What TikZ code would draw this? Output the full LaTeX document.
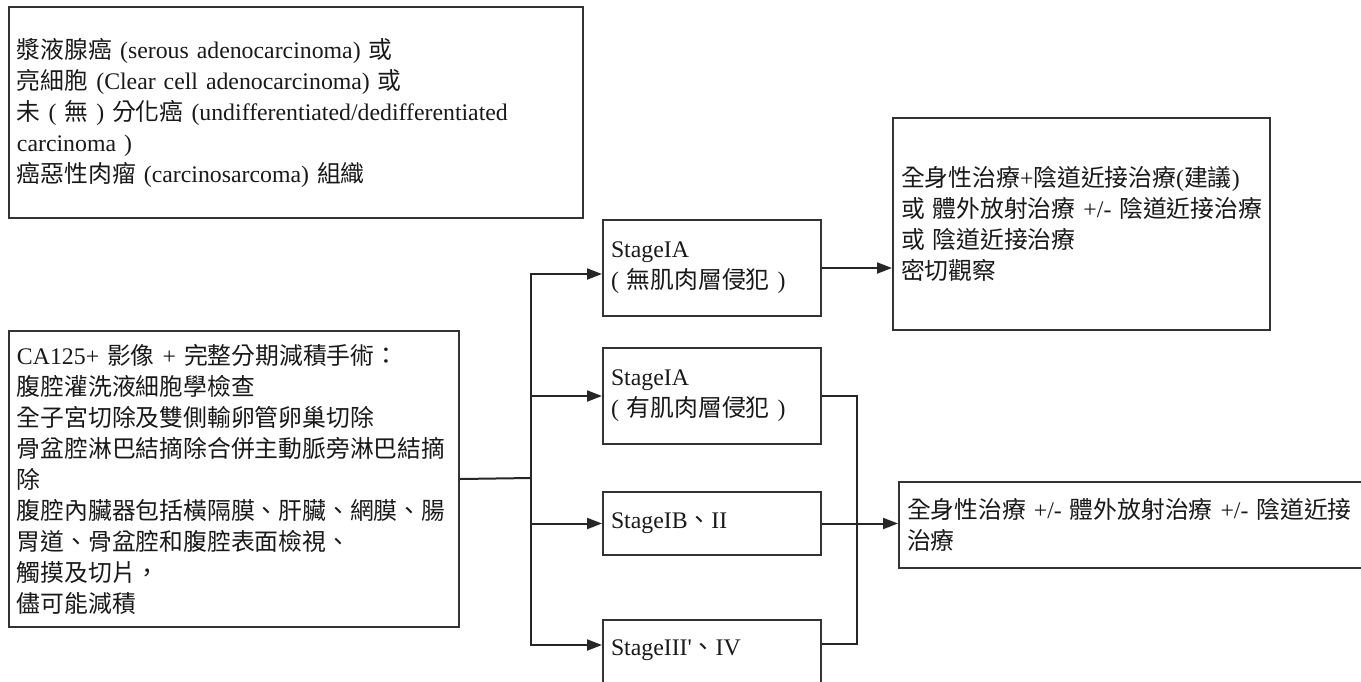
\documentclass[tikz,border=0pt]{standalone}
\usepackage{fontspec}
\setmainfont{Liberation Serif}
\newfontfamily\cjk{Noto Sans CJK TC}
\newcommand{\zh}[1]{{\cjk #1}}
\newcommand{\orplus}{\mbox{+/-}}
\usetikzlibrary{arrows.meta,calc}

\begin{document}
\begin{tikzpicture}[->,>={Triangle[length=7.5pt,width=5.5pt]}, x=0.5pt, y=-0.5pt]
	\tikzstyle{box}=[draw=black!80,line width=1pt,text=black!90,anchor=north west,
		align=left,inner xsep=4pt,inner ysep=0pt,
		font=\fontsize{11.9pt}{15.5pt}\selectfont]
	\tikzstyle{wire}=[draw=black!85,line width=1pt]

	\clip (0,0) rectangle (1361,681);

	% pathology and surgery
	\node[box,text width=279pt,minimum height=105.5pt] (cls) at (8,6)
		{\zh{漿液腺癌} (serous adenocarcinoma) \zh{或}\\
		\zh{亮細胞} (Clear cell adenocarcinoma) \zh{或}\\
		\zh{未} ( \zh{無} ) \zh{分化癌} (undifferentiated/dedifferentiated\\
		carcinoma )\\
		\zh{癌惡性肉瘤} (carcinosarcoma) \zh{組織}};
	\node[box,text width=217pt,minimum height=148pt] (surg) at (8,330)
		{CA125+ \zh{影像} + \zh{完整分期減積手術：}\\
		\zh{腹腔灌洗液細胞學檢查}\\
		\zh{全子宮切除及雙側輸卵管卵巢切除}\\
		\zh{骨盆腔淋巴結摘除合併主動脈旁淋巴結摘}\\
		\zh{除}\\
		\zh{腹腔內臟器包括橫隔膜、肝臟、網膜、腸}\\
		\zh{胃道、骨盆腔和腹腔表面檢視、}\\
		\zh{觸摸及切片，}\\
		\zh{儘可能減積}};

	% stages
	\node[box,text width=101pt,minimum height=48pt] (s1) at (602,219)
		{StageIA\\( \zh{無肌肉層侵犯} )};
	\node[box,text width=101pt,minimum height=48pt] (s2) at (602,347)
		{StageIA\\( \zh{有肌肉層侵犯} )};
	\node[box,text width=101pt,minimum height=31.5pt] (s3) at (602,491)
		{StageIB\zh{、}II};
	\node[box,text width=101pt,minimum height=43pt] (s4) at (602,619)
		{StageIII\textquotesingle\zh{、}IV\\~};

	% treatment
	\node[box,text width=180.5pt,minimum height=106pt] (r1) at (892,117)
		{\zh{全身性治療}+\zh{陰道近接治療}(\zh{建議})\\
		\zh{或}~\zh{體外放射治療}~\orplus~\zh{陰道近接治療}\\
		\zh{或}~\zh{陰道近接治療}\\
		\zh{密切觀察}};
	\node[box,text width=300pt,minimum height=43pt] (r2) at (898,481)
		{\zh{全身性治療}~\orplus~\zh{體外放射治療}~\orplus~\zh{陰道近接}\\
		\zh{治療}};

	\coordinate (fork) at (531,478);
	\coordinate (merge) at (857,395);
	\coordinate (s4in) at ([yshift=-13pt]s4.north west);
	\coordinate (s4out) at ([yshift=-12.5pt]s4.north east);

	\draw[wire,-] (surg.east) -- (fork);
	\draw[wire] (fork) |- ([yshift=-3pt]s1.west);
	\draw[wire] (fork) |- (s2.west);
	\draw[wire] (fork) |- (s3.west);
	\draw[wire] (fork) |- (s4in);

	\draw[wire] (s1.east) -- (s1.east -| r1.west);
	\draw[wire,-] (s2.east) -- (s2.east -| merge) |- (s4out);
	\draw[wire] (s3.east) -- (s3.east -| r2.west);
\end{tikzpicture}
\end{document}
